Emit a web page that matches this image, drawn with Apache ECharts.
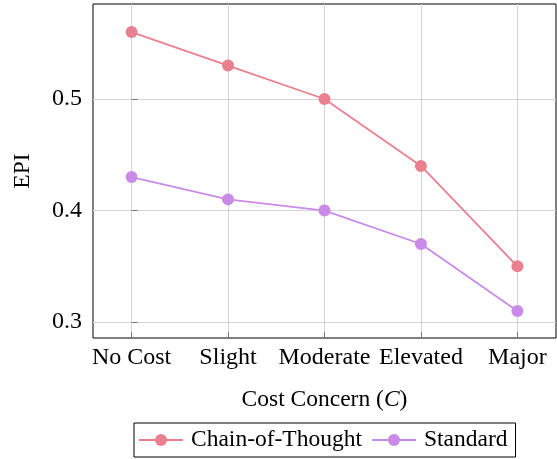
<!DOCTYPE html>
<html>
<head>
<meta charset="utf-8">
<script src="https://cdn.jsdelivr.net/npm/echarts@6/dist/echarts.min.js"></script>
<style>html,body{margin:0;padding:0;background:#fff}#c{width:557px;height:459px}</style>
</head>
<body>
<div id="c"></div>
<script>
const categories = ['No Cost', 'Slight', 'Moderate', 'Elevated', 'Major'];
const cotValues = [0.56, 0.53, 0.50, 0.44, 0.35];
const standardValues = [0.43, 0.41, 0.40, 0.37, 0.31];
const yTicks = [0.3, 0.4, 0.5];
const xTicks = [0, 1, 2, 3, 4];

const FONT = 'Liberation Serif';
const chart = echarts.init(document.getElementById('c'), null, {renderer: 'canvas'});
const toPairs = vals => vals.map((v, i) => [i, v]);

chart.setOption({
  animation: false,
  backgroundColor: '#fff',
  textStyle: {fontFamily: FONT, color: '#000'},
  grid: {left: 93, top: 4, right: 1, bottom: 121, show: true, borderColor: '#000', borderWidth: 1, backgroundColor: 'transparent'},
  xAxis: {
    type: 'value', min: -0.4, max: 4.4,
    axisLine: {show: false},
    axisTick: {show: true, inside: true, length: 6, customValues: xTicks, lineStyle: {color: '#777', width: 1}},
    axisLabel: {customValues: xTicks, formatter: v => categories[Math.round(v)], fontFamily: FONT, fontSize: 24, color: '#000', margin: 8},
    splitLine: {show: true, lineStyle: {color: '#d4d4d4', width: 1}},
    name: '{a|Cost Concern (}{i|C}{a|)}',
    nameLocation: 'middle', nameGap: 50,
    nameTextStyle: {rich: {a: {fontFamily: FONT, fontSize: 23.5, color: '#000'}, i: {fontFamily: FONT, fontSize: 23.5, fontStyle: 'italic', color: '#000'}}}
  },
  yAxis: {
    type: 'value', min: 0.2857, max: 0.5852,
    axisLine: {show: false},
    axisTick: {show: true, inside: true, length: 6, customValues: yTicks, lineStyle: {color: '#777', width: 1}},
    axisLabel: {customValues: yTicks, formatter: v => v.toFixed(1), fontFamily: FONT, fontSize: 24, color: '#000', margin: 11},
    splitLine: {show: true, lineStyle: {color: '#d4d4d4', width: 1}},
    name: 'EPI', nameLocation: 'middle', nameGap: 58,
    nameTextStyle: {fontFamily: FONT, fontSize: 23.5, color: '#000'}
  },
  legend: {
    left: 134, top: 423,
    borderColor: '#000', borderWidth: 1, borderRadius: 0,
    padding: [5, 8, 5, 4],
    itemWidth: 44, itemHeight: 15, itemGap: 9,
    textStyle: {fontFamily: FONT, fontSize: 23.5, color: '#000', padding: [0, 0, 0, 3]},
    data: ['Chain-of-Thought', 'Standard']
  },
  series: [
    {name: 'Chain-of-Thought', type: 'line', data: toPairs(cotValues), symbol: 'circle', symbolSize: 12,
     lineStyle: {color: '#e8808f', width: 1.8}, itemStyle: {color: '#e8808f'}},
    {name: 'Standard', type: 'line', data: toPairs(standardValues), symbol: 'circle', symbolSize: 12,
     lineStyle: {color: '#c98ae8', width: 1.8}, itemStyle: {color: '#c98ae8'}}
  ]
});
</script>
</body>
</html>
